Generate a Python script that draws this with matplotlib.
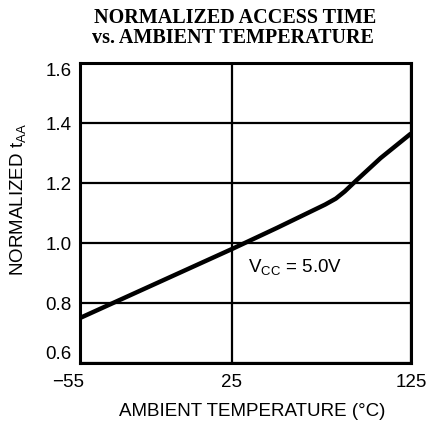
import numpy as np
import matplotlib
matplotlib.use("Agg")
import matplotlib.pyplot as plt
from matplotlib.transforms import ScaledTranslation

# Data
temperature = [-55, 25, 50, 77, 83, 88, 94, 108, 125]
norm_taa = [0.75, 0.98, 1.05, 1.128, 1.148, 1.172, 1.206, 1.283, 1.365]

x_ticks = [-55, 25, 125]
x_ticklabels = ["\u221255", "25", "125"]
y_ticks = [0.6, 0.8, 1.0, 1.2, 1.4, 1.6]
y_ticklabels = ["0.6", "0.8", "1.0", "1.2", "1.4", "1.6"]

title_line1 = "NORMALIZED ACCESS TIME"
title_line2 = "vs. AMBIENT TEMPERATURE"
xlabel = "AMBIENT TEMPERATURE (\u00b0C)"
ylabel = "NORMALIZED t$_{\\mathregular{AA}}$"
note = "V$_{\\mathregular{CC}}$ = 5.0V"

# slightly uneven printed temperature axis
_src = [-55, 25, 125]
_dst = [0.0, 152.0, 331.0]
def fwd(x):
    return np.interp(x, _src, _dst)
def inv(y):
    return np.interp(y, _dst, _src)

plt.rcParams['font.family'] = ['Liberation Sans', 'DejaVu Sans']
FS = 13.5

fig = plt.figure(figsize=(4.26, 4.26), dpi=100)
ax = fig.add_axes([80/426, 1 - 363/426, 331/426, 300/426])
ax.set_xscale('function', functions=(fwd, inv))

ax.plot(temperature, norm_taa, color='black', lw=3.2, solid_capstyle='butt',
        solid_joinstyle='round', zorder=3)

ax.set_xlim(-55, 125)
ax.set_ylim(0.6, 1.6)
ax.set_xticks(x_ticks)
ax.set_xticklabels(x_ticklabels, fontsize=FS)
ax.set_yticks(y_ticks)
ax.set_yticklabels(y_ticklabels, fontsize=FS)
ax.tick_params(length=0)
ax.tick_params(axis='x', pad=8)
ax.tick_params(axis='y', pad=6)
ax.minorticks_off()

ylabs = ax.get_yticklabels()
ylabs[0].set_verticalalignment('bottom')
ylabs[-1].set_verticalalignment('top')
xlabs = ax.get_xticklabels()
xlabs[0].set_transform(xlabs[0].get_transform() + ScaledTranslation(-0.12, 0, fig.dpi_scale_trans))

ax.grid(True, color='black', lw=1.6)
for s in ax.spines.values():
    s.set_linewidth(2.2)

ax.set_xlabel(xlabel, fontsize=FS, va='center')
ax.xaxis.set_label_coords((252 - 80) / 331, (363 - 411) / 300)
ax.set_ylabel(ylabel, fontsize=FS, va='center')
ax.yaxis.set_label_coords((19 - 80) / 331, (363 - 199) / 300)

ax.text(34, 0.917, note, fontsize=FS, ha='left', va='center')

fig.text(235/426, 1 - 18/426, title_line1, ha='center', va='center',
         family='Liberation Serif', fontweight='bold', fontsize=14.5)
fig.text(233/426, 1 - 38/426, title_line2, ha='center', va='center',
         family='Liberation Serif', fontweight='bold', fontsize=14.5)

fig.savefig('out.png', dpi=100)
